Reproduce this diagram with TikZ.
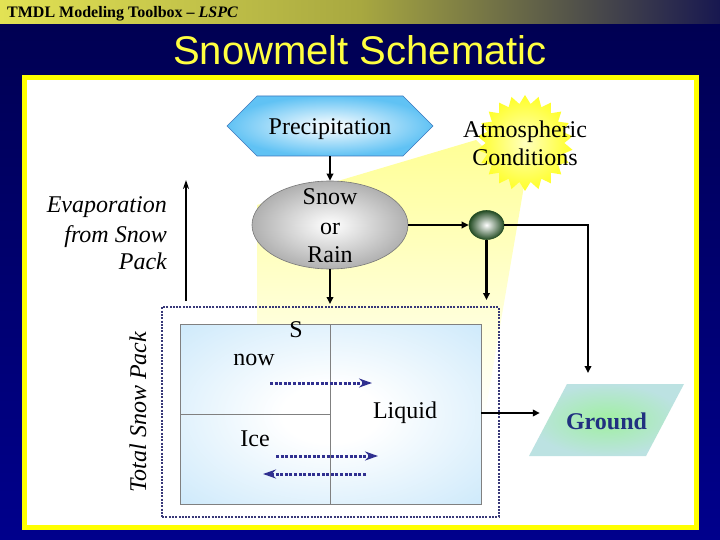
\documentclass[tikz,border=0pt]{standalone}
\usepackage{fontspec}
\setmainfont{Liberation Serif}
\newfontfamily\arialfont{Liberation Sans}
\usetikzlibrary{shapes.geometric,arrows.meta}
\definecolor{navyT}{RGB}{0,0,80}
\definecolor{navyB}{RGB}{0,0,140}
\definecolor{hdrL}{RGB}{226,226,84}
\definecolor{hdrM}{RGB}{168,168,64}
\definecolor{hdrR}{RGB}{24,24,80}
\definecolor{ttl}{RGB}{255,255,64}
\definecolor{panelyel}{RGB}{255,255,0}
\definecolor{hexblue}{RGB}{96,194,244}
\definecolor{hexedge}{RGB}{60,120,190}
\definecolor{ellgray}{RGB}{176,176,176}
\definecolor{elledge}{RGB}{120,120,120}
\definecolor{grn}{RGB}{36,76,36}
\definecolor{gndedge}{RGB}{188,226,226}
\definecolor{gndmid}{RGB}{160,240,160}
\definecolor{gndtext}{RGB}{32,48,128}
\definecolor{boxblue}{RGB}{198,230,250}
\definecolor{boxedge}{RGB}{128,128,128}
\definecolor{dotnavy}{RGB}{56,56,120}
\definecolor{arrblue}{RGB}{48,48,144}
\definecolor{beamyel}{RGB}{255,255,150}
\definecolor{staryel}{RGB}{255,255,40}
\definecolor{starmid}{RGB}{255,255,190}
\pgfdeclareradialshading{boxsh}{\pgfpoint{0bp}{0bp}}{color(0bp)=(white); color(8bp)=(white); color(40bp)=(boxblue); color(50bp)=(boxblue)}
\begin{document}
\begin{tikzpicture}[x=1pt,y=-1pt,
  lbl/.style={font=\fontsize{24}{29}\selectfont, inner sep=0, anchor=base},
  conn/.style={line width=2.6pt, -{Triangle[length=7pt,width=6.5pt]}},
  dotarrow/.style={arrblue, line width=3pt, dash pattern=on 3pt off 1.6pt, -{Stealth[length=13pt,width=9pt]}}]
\useasboundingbox (0,0) rectangle (720,540);
% background
\shade[top color=navyT, bottom color=navyB] (0,0) rectangle (720,540);
\shade[left color=hdrL, right color=hdrR, middle color=hdrM] (0,0) rectangle (720,24);
\node[anchor=base west, inner sep=0, font=\bfseries\fontsize{16}{18}\selectfont] (hdr) at (7,17.5) {TMDL Modeling Toolbox -- \textit{LSPC}};
\node[anchor=base, inner sep=0, font=\arialfont\fontsize{40}{48}\selectfont, text=ttl] (title) at (360,65) {Snowmelt Schematic};
% panel
\draw[panelyel, line width=5pt, fill=white] (24.5,77.5) rectangle (696.5,527.5);
% light beam
\shade[top color=beamyel, bottom color=white] (476,140) -- (257,205) -- (257,420) -- (484,420) -- (524,186) -- cycle;
% sun
\node[star, star points=22, star point ratio=1.22, minimum size=96pt, inner sep=0, draw=none, shading=radial, inner color=starmid, outer color=staryel] (sun) at (525,143) {};
\node[lbl] (atm1) at (525,138) {Atmospheric};
\node[lbl] (atm2) at (525,166) {Conditions};
% precipitation hexagon
\shade[inner color=white, outer color=hexblue, draw=hexedge, line width=0.6pt] (227,126) -- (257,96) -- (403,96) -- (433,126) -- (403,156) -- (257,156) -- cycle;
\node[inner sep=0, minimum width=206pt, minimum height=60pt] (prec) at (330,126) {};
\node[lbl] (prectext) at (330,135) {Precipitation};
% snow or rain
\node[ellipse, minimum width=156pt, minimum height=88pt, inner sep=0, draw=elledge, line width=0.6pt, shading=radial, inner color=white, outer color=ellgray] (snow) at (330,225) {};
\node[lbl] (s1) at (330,205) {Snow};
\node[lbl] (s2) at (330,234) {or};
\node[lbl] (s3) at (330,262) {Rain};
% mixer
\node[ellipse, minimum width=35pt, minimum height=29pt, inner sep=0, draw=grn, line width=0.6pt, shading=radial, inner color=white, outer color=grn] (mix) at (486.5,225) {};
% pack
\shade[shading=boxsh] (180,324) rectangle (481,504);
\draw[boxedge, line width=0.8pt] (180,324) rectangle (481,504);
\draw[boxedge, line width=0.8pt] (330,324) -- (330,504);
\draw[boxedge, line width=0.8pt] (180,414) -- (330,414);
\node[draw=dotnavy, line width=2.6pt, dash pattern=on 2pt off 1.3pt, minimum width=337pt, minimum height=210pt, inner sep=0] (pack) at (330.5,412) {};
\node[lbl] (tS) at (296,337.5) {S};
\node[lbl] (tnow) at (254,365.5) {now};
\node[lbl] (tice) at (255,446.5) {Ice};
\node[lbl] (tliq) at (405,418.5) {Liquid};
\node[lbl, rotate=90, font=\itshape\fontsize{24}{29}\selectfont] (tsp) at (146,412) {Total Snow Pack};
% evaporation
\node[lbl, anchor=base east, font=\itshape\fontsize{24}{29}\selectfont] (ev1) at (167,213) {Evaporation};
\node[lbl, anchor=base east, font=\itshape\fontsize{24}{29}\selectfont] (ev2) at (167,242) {from Snow};
\node[lbl, anchor=base east, font=\itshape\fontsize{24}{29}\selectfont] (ev3) at (167,269) {Pack};
% ground
\shade[inner color=gndmid, outer color=gndedge] (567,384) -- (684,384) -- (646,456) -- (529,456) -- cycle;
\node[inner sep=0, minimum width=133pt, minimum height=20pt, font=\bfseries\fontsize{24}{29}\selectfont, text=gndtext] (gnd) at (606.5,421) {Ground};
% coordinates
\coordinate (evbot) at (186,301);
\coordinate (evtop) at (186,180);
\coordinate (mixdn) at (486.5,300);
\coordinate (snowdn) at (330,304);
\coordinate (gndin) at (588,373);
\coordinate (liqE) at (481,413);
\coordinate (a1s) at (270,383); \coordinate (a1e) at (372,383);
\coordinate (a2s) at (276,456); \coordinate (a2e) at (378,456);
\coordinate (a3s) at (366,474); \coordinate (a3e) at (263,474);
% connectors
\draw[conn] (prec.south) -- (snow.north);
\draw[conn] (snow.east) -- (mix.west);
\draw[conn] (snow.south) -- (snowdn);
\draw[conn] (mix.south) -- (mixdn);
\draw[conn] (mix.east) -| (gndin);
\draw[conn] (liqE) -- (liqE -| gnd.west);
\draw[line width=2.2pt, -{Stealth[length=9pt,width=6pt]}] (evbot) -- (evtop);
\draw[dotarrow] (a1s) -- (a1e);
\draw[dotarrow] (a2s) -- (a2e);
\draw[dotarrow] (a3s) -- (a3e);
\end{tikzpicture}
\end{document}
